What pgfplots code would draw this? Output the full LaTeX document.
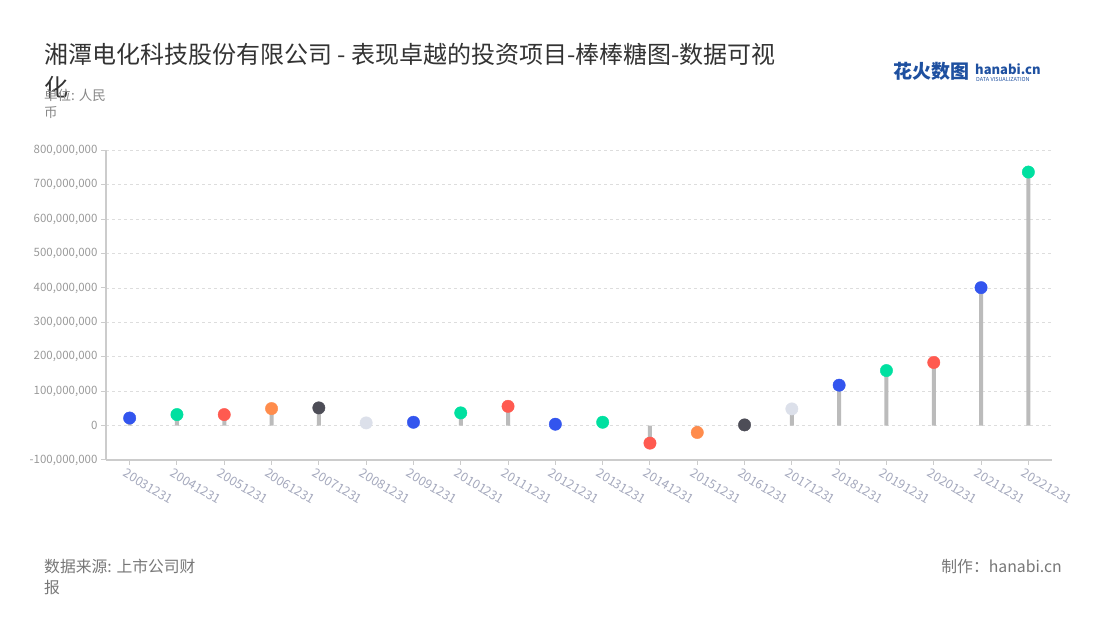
\documentclass[border=0pt]{standalone}
\usepackage{fontspec}
\setmainfont{Noto Sans CJK SC}
\usepackage{pgfplots}
\usepackage{pgfplotstable}
\pgfplotsset{compat=1.18}
\definecolor{cb}{HTML}{3355EE}
\definecolor{cg}{HTML}{00E0A0}
\definecolor{cr}{HTML}{FF5A50}
\definecolor{co}{HTML}{FF8C4C}
\definecolor{cd}{HTML}{4D4D57}
\definecolor{cl}{HTML}{DCE0EA}
\definecolor{stem}{HTML}{BBBBBB}
\definecolor{axisgray}{HTML}{CCCCCC}
\definecolor{gridgray}{HTML}{DDDDDD}
\definecolor{ticklab}{HTML}{999999}
\definecolor{xlab}{HTML}{A4A8BC}
\definecolor{titlec}{HTML}{333333}
\definecolor{subc}{HTML}{888888}
\definecolor{footc}{HTML}{777777}
\definecolor{logob}{HTML}{1E50A0}

\pgfplotstableread{
x y c
0 22000000 b
1 32000000 g
2 32000000 r
3 49500000 o
4 51500000 d
5 7800000 l
6 9700000 b
7 37000000 g
8 56000000 r
9 4000000 b
10 9700000 g
11 -51000000 r
12 -20000000 o
13 2000000 d
14 48500000 l
15 117500000 b
16 160000000 g
17 183500000 r
18 401000000 b
19 737000000 g
}\data

\begin{document}
\begin{tikzpicture}[x=1pt,y=1pt]
\path (0,0) rectangle (1100,620);
% title
\node[anchor=base west, inner sep=0, font=\fontsize{24}{24}\selectfont, text=titlec] at (44,620-64) {湘潭电化科技股份有限公司 - 表现卓越的投资项目-棒棒糖图-数据可视};
\node[anchor=base west, inner sep=0, font=\fontsize{24}{24}\selectfont, text=titlec] at (44,620-97) {化};
\node[anchor=base west, inner sep=0, font=\fontsize{13.5}{13.5}\selectfont, text=subc] at (44,620-101) {单位: 人民};
\node[anchor=base west, inner sep=0, font=\fontsize{13.5}{13.5}\selectfont, text=subc] at (44,620-118) {币};
% logo
\node[anchor=base west, inner sep=0, font=\fontsize{19}{19}\selectfont\bfseries, text=logob] at (893,620-79) {花火数图};
\node[anchor=base west, inner sep=0, font=\fontsize{13}{13}\selectfont\bfseries, text=logob] at (975,620-75) {hanabi.cn};
\node[anchor=base west, inner sep=0, font=\fontsize{5.5}{5.5}\selectfont, text=logob] at (976,620-82) {DATA VISUALIZATION};
% footer
\node[anchor=base west, inner sep=0, font=\fontsize{15.8}{15.8}\selectfont, text=footc] at (44,620-573) {数据来源: 上市公司财};
\node[anchor=base west, inner sep=0, font=\fontsize{15.8}{15.8}\selectfont, text=footc] at (44,620-594) {报};
\node[anchor=base east, inner sep=0, font=\fontsize{15.8}{15.8}\selectfont, text=footc] at (1062,620-573) {制作：hanabi.cn};

\begin{axis}[
  at={(106pt,160pt)}, anchor=south west,
  scale only axis, width=946pt, height=309.6pt,
  xmin=-0.5, xmax=19.5,
  ymin=-100000000, ymax=800000000,
  enlargelimits=false,
  axis x line*=bottom, axis y line*=left,
  axis line style={axisgray, line width=1.5pt},
  xtick={0,...,19},
  xticklabels={20031231,20041231,20051231,20061231,20071231,20081231,20091231,20101231,20111231,20121231,20131231,20141231,20151231,20161231,20171231,20181231,20191231,20201231,20211231,20221231},
  ytick={-100000000,0,100000000,200000000,300000000,400000000,500000000,600000000,700000000,800000000},
  scaled y ticks=false,
  /pgf/number format/fixed,
  /pgf/number format/precision=0,
  /pgf/number format/1000 sep={,},
  /pgf/number format/assume math mode=true,
  yticklabel style={font=\fontsize{11.5}{11.5}\selectfont, text=ticklab},
  xticklabel style={font=\fontsize{12.5}{12.5}\selectfont, text=xlab, rotate=-31, anchor=north west, inner sep=1pt, xshift=-2pt, yshift=-3pt},
  tick align=outside, major tick length=5pt,
  tick style={axisgray, line width=1pt},
  ymajorgrids, xmajorgrids=false,
  major grid style={gridgray, dashed, line width=0.8pt},
  clip=false,
]
\addplot[ybar, bar width=4pt, bar shift=0pt, fill=stem, draw=none] table[x=x,y=y]{\data};
\addplot[scatter, only marks, scatter src=explicit symbolic, mark=*, mark size=6.2pt,
  scatter/classes={
    b={mark=*,draw=cb,fill=cb},
    g={mark=*,draw=cg,fill=cg},
    r={mark=*,draw=cr,fill=cr},
    o={mark=*,draw=co,fill=co},
    d={mark=*,draw=cd,fill=cd},
    l={mark=*,draw=cl,fill=cl}}
  ] table[x=x,y=y,meta=c]{\data};
\end{axis}
\end{tikzpicture}
\end{document}
